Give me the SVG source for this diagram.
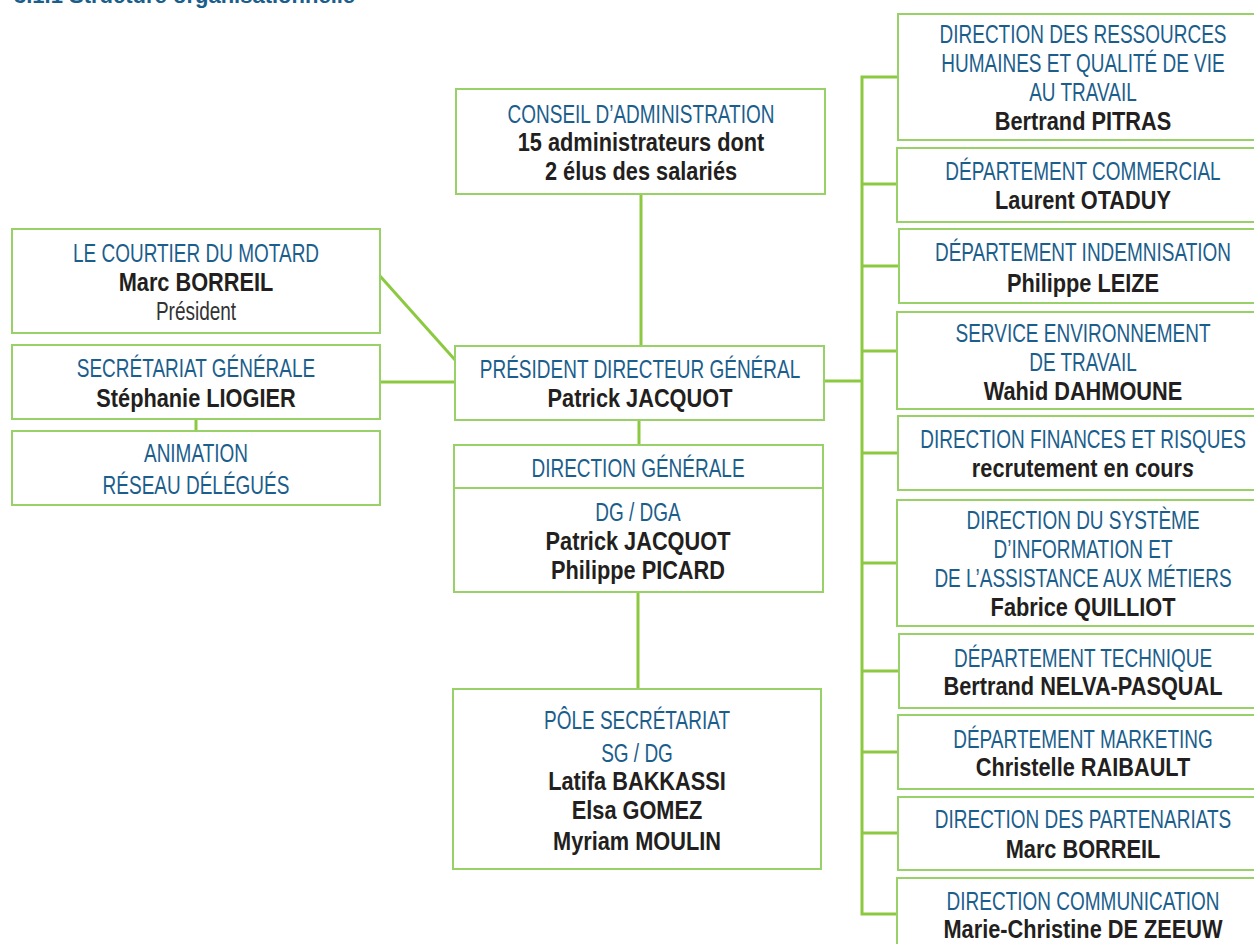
<svg xmlns="http://www.w3.org/2000/svg" width="1254" height="944" viewBox="0 0 1254 944">
<style>
.box{fill:#fff;stroke:#98d168;stroke-width:2}
.con{stroke:#8cc940;stroke-width:3;fill:none}
text{font-family:"Liberation Sans",Arial,sans-serif;text-anchor:middle;font-size:25px}
.t{fill:#1b5e8c}
.g{fill:#333}
.n{fill:#231f20;font-weight:bold}
.title{fill:#1b5e8c;font-weight:bold;text-anchor:start;font-size:22px}
</style>
<rect width="1254" height="944" fill="#fff"/>
<text class="title" x="14" y="3">3.1.1 Structure organisationnelle</text>
<g id="connectors">
<line class="con" x1="641" y1="194" x2="641" y2="346"/>
<line class="con" x1="380" y1="276" x2="456" y2="361"/>
<line class="con" x1="380" y1="382" x2="456" y2="382"/>
<line class="con" x1="196" y1="419" x2="196" y2="431"/>
<line class="con" x1="639" y1="420" x2="639" y2="445"/>
<line class="con" x1="638" y1="592" x2="638" y2="689"/>
<line class="con" x1="824" y1="381" x2="862" y2="381"/>
<path class="con" d="M898 77H862V914H898"/>
<line class="con" x1="862" y1="184" x2="898" y2="184"/>
<line class="con" x1="862" y1="266" x2="900" y2="266"/>
<line class="con" x1="862" y1="351" x2="898" y2="351"/>
<line class="con" x1="862" y1="453" x2="899" y2="453"/>
<line class="con" x1="862" y1="563" x2="898" y2="563"/>
<line class="con" x1="862" y1="671" x2="900" y2="671"/>
<line class="con" x1="862" y1="752" x2="899" y2="752"/>
<line class="con" x1="862" y1="833" x2="899" y2="833"/>
</g>
<g id="courtier">
<rect class="box" x="12" y="229" width="368" height="104"/>
<text class="t" transform="translate(196 262) scale(0.76 1)">LE COURTIER DU MOTARD</text>
<text class="n" transform="translate(196 291) scale(0.87 1)">Marc BORREIL</text>
<text class="g" transform="translate(196 320) scale(0.76 1)">Président</text>
</g>
<g id="secretariat">
<rect class="box" x="12" y="345" width="368" height="74"/>
<text class="t" transform="translate(196 377) scale(0.76 1)">SECRÉTARIAT GÉNÉRALE</text>
<text class="n" transform="translate(196 407) scale(0.87 1)">Stéphanie LIOGIER</text>
</g>
<g id="animation">
<rect class="box" x="12" y="431" width="368" height="74"/>
<text class="t" transform="translate(196 462) scale(0.76 1)">ANIMATION</text>
<text class="t" transform="translate(196 494) scale(0.76 1)">RÉSEAU DÉLÉGUÉS</text>
</g>
<g id="conseil">
<rect class="box" x="456" y="89" width="369" height="105"/>
<text class="t" transform="translate(641 123) scale(0.76 1)">CONSEIL D’ADMINISTRATION</text>
<text class="n" transform="translate(641 151) scale(0.87 1)">15 administrateurs dont</text>
<text class="n" transform="translate(641 180) scale(0.87 1)">2 élus des salariés</text>
</g>
<g id="pdg">
<rect class="box" x="455" y="346" width="369" height="74"/>
<text class="t" transform="translate(640 378) scale(0.76 1)">PRÉSIDENT DIRECTEUR GÉNÉRAL</text>
<text class="n" transform="translate(640 407) scale(0.87 1)">Patrick JACQUOT</text>
</g>
<g id="dg">
<rect class="box" x="454" y="445" width="369" height="147"/>
<line class="box" x1="454" y1="488" x2="823" y2="488"/>
<text class="t" transform="translate(638 477) scale(0.76 1)">DIRECTION GÉNÉRALE</text>
<text class="t" transform="translate(638 521) scale(0.76 1)">DG / DGA</text>
<text class="n" transform="translate(638 550) scale(0.87 1)">Patrick JACQUOT</text>
<text class="n" transform="translate(638 579) scale(0.87 1)">Philippe PICARD</text>
</g>
<g id="pole">
<rect class="box" x="453" y="689" width="368" height="180"/>
<text class="t" transform="translate(637 729) scale(0.76 1)">PÔLE SECRÉTARIAT</text>
<text class="t" transform="translate(637 762) scale(0.76 1)">SG / DG</text>
<text class="n" transform="translate(637 790) scale(0.87 1)">Latifa BAKKASSI</text>
<text class="n" transform="translate(637 819) scale(0.87 1)">Elsa GOMEZ</text>
<text class="n" transform="translate(637 850) scale(0.87 1)">Myriam MOULIN</text>
</g>
<g id="drh">
<rect class="box" x="898" y="14" width="370" height="126"/>
<text class="t" transform="translate(1083 43) scale(0.76 1)">DIRECTION DES RESSOURCES</text>
<text class="t" transform="translate(1083 72) scale(0.76 1)">HUMAINES ET QUALITÉ DE VIE</text>
<text class="t" transform="translate(1083 101) scale(0.76 1)">AU TRAVAIL</text>
<text class="n" transform="translate(1083 130) scale(0.87 1)">Bertrand PITRAS</text>
</g>
<g id="commercial">
<rect class="box" x="897" y="148" width="370" height="74"/>
<text class="t" transform="translate(1083 180) scale(0.76 1)">DÉPARTEMENT COMMERCIAL</text>
<text class="n" transform="translate(1083 209) scale(0.87 1)">Laurent OTADUY</text>
</g>
<g id="indemnisation">
<rect class="box" x="899" y="229" width="370" height="74"/>
<text class="t" transform="translate(1083 261) scale(0.76 1)">DÉPARTEMENT INDEMNISATION</text>
<text class="n" transform="translate(1083 292) scale(0.87 1)">Philippe LEIZE</text>
</g>
<g id="environnement">
<rect class="box" x="897" y="312" width="370" height="97"/>
<text class="t" transform="translate(1083 342) scale(0.76 1)">SERVICE ENVIRONNEMENT</text>
<text class="t" transform="translate(1083 371) scale(0.76 1)">DE TRAVAIL</text>
<text class="n" transform="translate(1083 400) scale(0.87 1)">Wahid DAHMOUNE</text>
</g>
<g id="finances">
<rect class="box" x="898" y="416" width="370" height="74"/>
<text class="t" transform="translate(1083 448) scale(0.76 1)">DIRECTION FINANCES ET RISQUES</text>
<text class="n" transform="translate(1083 477) scale(0.87 1)">recrutement en cour<tspan font-style="italic">s</tspan></text>
</g>
<g id="si">
<rect class="box" x="897" y="500" width="370" height="126"/>
<text class="t" transform="translate(1083 529) scale(0.76 1)">DIRECTION DU SYSTÈME</text>
<text class="t" transform="translate(1083 558) scale(0.76 1)">D’INFORMATION ET</text>
<text class="t" transform="translate(1083 587) scale(0.76 1)">DE L’ASSISTANCE AUX MÉTIERS</text>
<text class="n" transform="translate(1083 616) scale(0.87 1)">Fabrice QUILLIOT</text>
</g>
<g id="technique">
<rect class="box" x="899" y="634" width="370" height="74"/>
<text class="t" transform="translate(1083 667) scale(0.76 1)">DÉPARTEMENT TECHNIQUE</text>
<text class="n" transform="translate(1083 695) scale(0.87 1)">Bertrand NELVA-PASQUAL</text>
</g>
<g id="marketing">
<rect class="box" x="898" y="715" width="370" height="74"/>
<text class="t" transform="translate(1083 748) scale(0.76 1)">DÉPARTEMENT MARKETING</text>
<text class="n" transform="translate(1083 776) scale(0.87 1)">Christelle RAIBAULT</text>
</g>
<g id="partenariats">
<rect class="box" x="898" y="797" width="370" height="73"/>
<text class="t" transform="translate(1083 828) scale(0.76 1)">DIRECTION DES PARTENARIATS</text>
<text class="n" transform="translate(1083 858) scale(0.87 1)">Marc BORREIL</text>
</g>
<g id="communication">
<rect class="box" x="897" y="878" width="370" height="80"/>
<text class="t" transform="translate(1083 910) scale(0.76 1)">DIRECTION COMMUNICATION</text>
<text class="n" transform="translate(1083 938) scale(0.87 1)">Marie-Christine DE ZEEUW</text>
</g>
</svg>
